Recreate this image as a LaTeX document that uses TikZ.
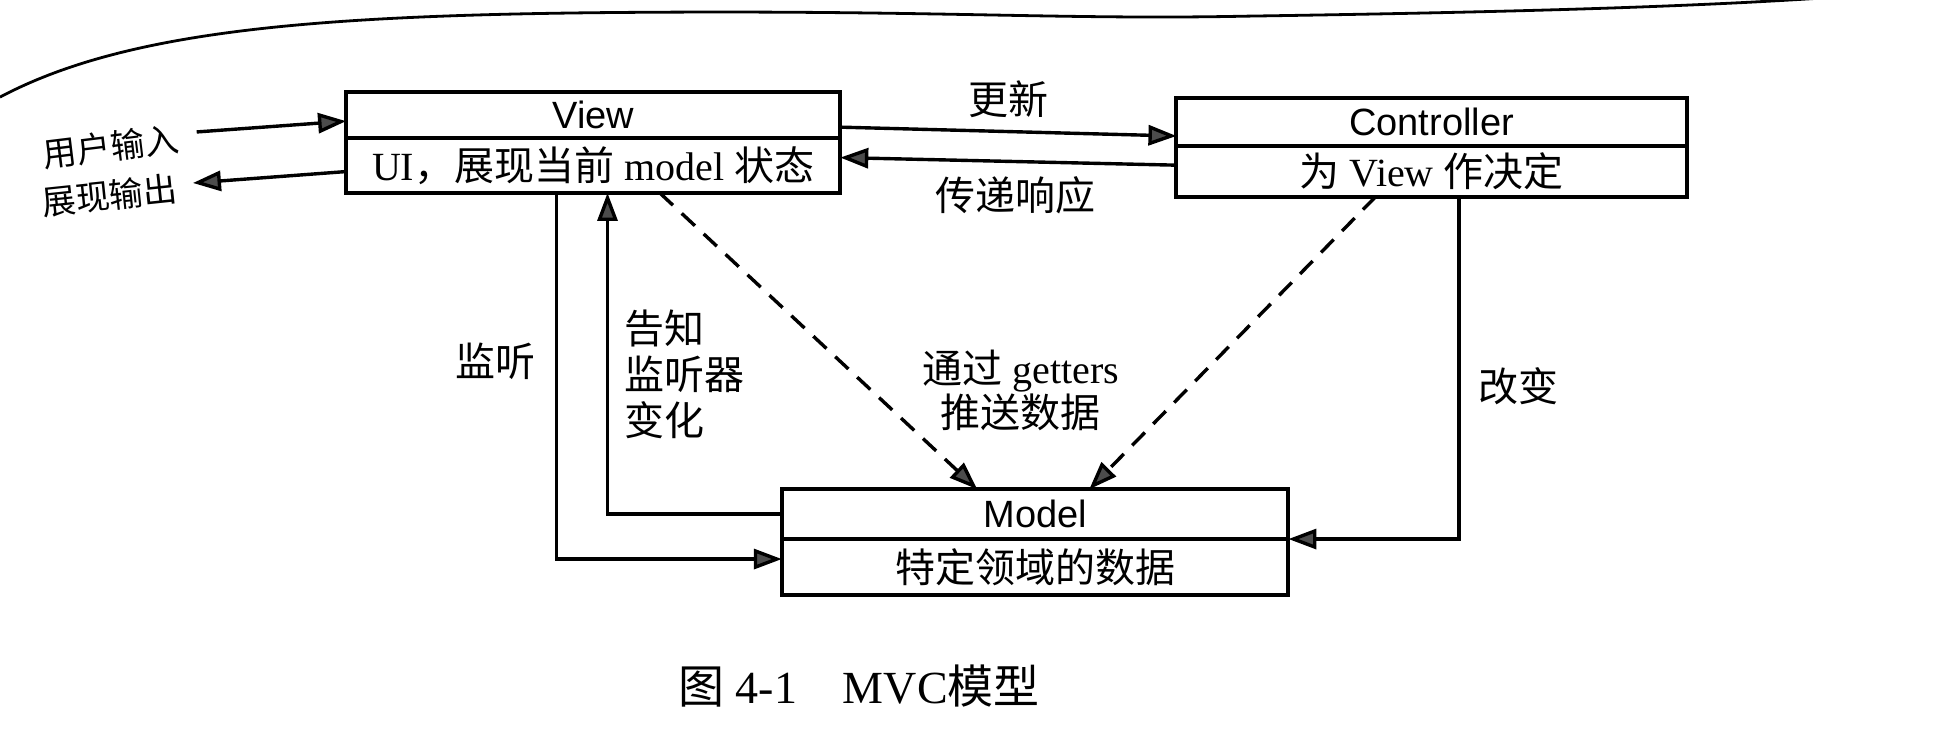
\documentclass[tikz,border=0pt]{standalone}
\usepackage{fontspec}
\setmainfont{Liberation Serif}
\setsansfont{Liberation Sans}
\newfontfamily\cjk{Noto Sans CJK SC}
\usetikzlibrary{arrows.meta,calc}
\def\pxu{0.6225pt}
\begin{document}
\begin{tikzpicture}[x=0.6225pt, y=-0.6225pt,
  box/.style={draw, line width=2pt, inner sep=0pt, outer sep=0pt, fill=white},
  ttl/.style={box, font=\sffamily\fontsize{19}{22}\selectfont},
  bdy/.style={box, font=\fontsize{20}{24}\selectfont},
  conn/.style={line width=1.7pt, -{Triangle[length=14pt,width=10pt,fill=black!70]}},
  dsh/.style={conn, dash pattern=on 9pt off 6pt},
  lbl/.style={font=\fontsize{20}{22}\selectfont},
  lblc/.style={font=\cjk\fontsize{20}{23}\selectfont}]
\useasboundingbox[fill=white] (0,0) rectangle (1568,591);

% page edge curve
\draw[line width=1.4pt] (0,78) .. controls (100,25) and (250,12) .. (500,10)
  .. controls (750,8) and (850,16) .. (1000,13)
  .. controls (1200,10) and (1350,6) .. (1470,-2);

% boxes
\node[ttl, minimum width=397*\pxu, minimum height=37*\pxu] (viewT) at (476.5,92.5) {View};
\node[bdy, minimum width=397*\pxu, minimum height=44*\pxu, anchor=north] (viewB) at (viewT.south) {UI{\cjk ，展现当前} model {\cjk 状态}};

\node[ttl, minimum width=410*\pxu, minimum height=38*\pxu] (ctrlT) at (1150,98) {Controller};
\node[bdy, minimum width=410*\pxu, minimum height=41*\pxu, anchor=north] (ctrlB) at (ctrlT.south) {{\cjk 为} View {\cjk 作决定}};

\node[ttl, minimum width=407*\pxu, minimum height=40*\pxu] (modelT) at (831.5,413) {Model};
\node[bdy, minimum width=407*\pxu, minimum height=45*\pxu, anchor=north] (modelB) at (modelT.south) {\cjk 特定领域的数据};

% free ends
\coordinate (uin) at (158,106);
\coordinate (uout) at (155,147);

% connectors
\draw[conn] (uin) -- ([yshift=-3pt]viewT.west);
\draw[conn] ([yshift=-3pt]viewB.west) -- (uout);
\draw[conn] ([yshift=-6pt]viewT.east) -- ([yshift=-7pt]ctrlT.west);
\draw[conn] ([yshift=3pt]ctrlB.west) -- ([yshift=4pt]viewB.east);
\draw[conn] ([xshift=-29.5*\pxu]viewB.south) |- ([yshift=4pt]modelB.west);
\draw[conn] (modelT.west) -| ([xshift=11.5*\pxu]viewB.south);
\draw[dsh] ([xshift=53.5*\pxu]viewB.south) -- ([xshift=-46.5*\pxu]modelT.north);
\draw[dsh] ([xshift=-45*\pxu]ctrlB.south) -- ([xshift=43.5*\pxu]modelT.north);
\draw[conn] ([xshift=22*\pxu]ctrlB.south) |- (modelT.south east);

% labels
\node[lblc, font=\cjk\fontsize{17}{20}\selectfont, rotate=7] (lin) at (89,118) {用户输入};
\node[lblc, font=\cjk\fontsize{17}{20}\selectfont, rotate=6] (lout) at (88,157) {展现输出};
\node[lblc] (lupd) at (810,80) {更新};
\node[lblc] (lresp) at (816,157) {传递响应};
\node[lblc] (llisten) at (398,290) {监听};
\node[lblc, anchor=west, align=left] (lnotify) at (496,301) {告知\\监听器\\变化};
\node[lbl, align=center] (lget) at (820,314) {{\cjk 通过} getters\\{\cjk 推送数据}};
\node[lblc] (lchg) at (1220,310) {改变};
\node[lbl, font=\fontsize{23}{26}\selectfont] (cap) at (690,551) {{\cjk 图} 4-1{\cjk 　}MVC{\cjk 模型}};
\end{tikzpicture}
\end{document}
